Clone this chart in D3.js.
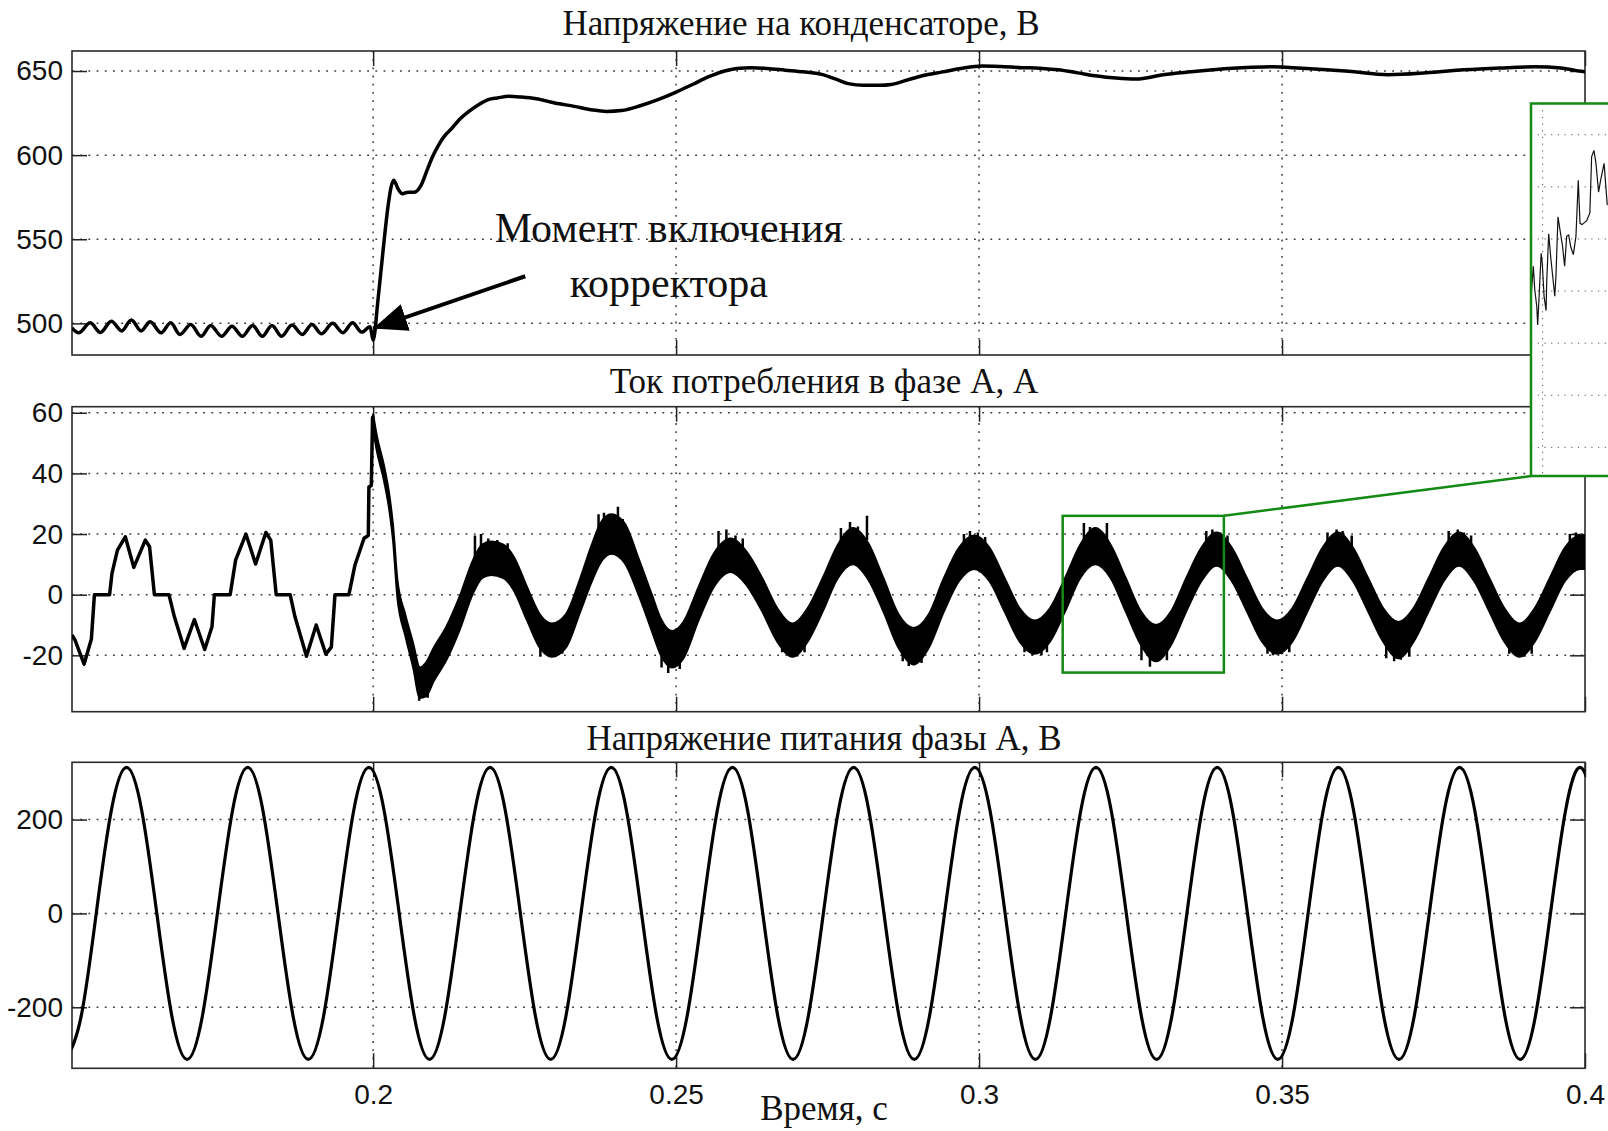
<!DOCTYPE html>
<html>
<head>
<meta charset="utf-8">
<script src="https://cdn.jsdelivr.net/npm/d3@7"></script>
<style>
  body { margin: 0; background: #fff; }
  svg { display: block; }
  .tick text { font-family: "Liberation Sans", Arial, sans-serif; font-size: 28px; fill: #111; }
  .title { font-family: "Liberation Serif", "Times New Roman", serif; font-size: 35px; fill: #111; }
  .note { font-family: "Liberation Serif", "Times New Roman", serif; font-size: 42px; fill: #111; }
</style>
</head>
<body>
<svg id="chart"></svg>
<script>
// ---- data ----
const xTicks = [0.2, 0.25, 0.3, 0.35, 0.4];
const capTicks = [500, 550, 600, 650];
const curTicks = [-20, 0, 20, 40, 60];
const supTicks = [-200, 0, 200];

// capacitor voltage, V
const capT = [0.1503, 0.1514, 0.1533, 0.1550, 0.1568, 0.1585, 0.1601, 0.1617, 0.1632, 0.1650,
  0.1666, 0.1681, 0.1699, 0.1716, 0.1732, 0.1750, 0.1767, 0.1784, 0.1801, 0.1817,
  0.1833, 0.1849, 0.1866, 0.1883, 0.1899, 0.1915, 0.1933, 0.1950, 0.1966, 0.1981,
  0.1995, 0.2000, 0.2008, 0.2016, 0.2024, 0.2029, 0.2034, 0.2041, 0.2048, 0.2058,
  0.2068, 0.2079, 0.2090, 0.2098, 0.2108, 0.2117, 0.2130, 0.2142, 0.2158, 0.2174,
  0.2190, 0.2205, 0.2224, 0.2245, 0.2269, 0.2300, 0.2332, 0.2360, 0.2385, 0.2410,
  0.2442, 0.2470, 0.2500, 0.2527, 0.2554, 0.2580, 0.2600, 0.2625, 0.2650, 0.2680,
  0.2710, 0.2740, 0.2765, 0.2784, 0.2810, 0.2835, 0.2855, 0.2880, 0.2910, 0.2940,
  0.2970, 0.3005, 0.3035, 0.3070, 0.3100, 0.3130, 0.3163, 0.3195, 0.3226, 0.3259,
  0.3304, 0.3350, 0.3386, 0.3418, 0.3450, 0.3482, 0.3540, 0.3610, 0.3675, 0.3738,
  0.3800, 0.3860, 0.3918, 0.3960, 0.3994, 0.4000];
const capV = [497.3, 494.4, 500.3, 494.6, 501.3, 495.5, 502.0, 495.5, 501.0, 494.4,
  500.3, 493.4, 499.3, 492.3, 498.8, 492.3, 498.3, 492.3, 498.8, 492.3,
  498.8, 492.3, 499.0, 493.4, 499.3, 493.8, 500.0, 494.4, 500.3, 494.8,
  498.0, 490.0, 514.0, 542.0, 568.0, 580.0, 585.0, 580.0, 577.0, 578.0,
  578.0, 582.0, 592.0, 599.0, 606.0, 611.0, 616.0, 621.0, 626.0, 630.0,
  633.0, 634.0, 635.0, 634.5, 633.5, 631.0, 629.0, 627.0, 626.0, 626.5,
  629.5, 633.0, 637.5, 642.0, 646.6, 650.0, 651.5, 652.0, 651.5, 650.5,
  649.5, 648.0, 645.0, 642.5, 641.5, 641.5, 642.0, 644.5, 647.5, 649.5,
  651.5, 653.0, 652.7, 652.0, 651.7, 650.7, 648.9, 647.0, 645.8, 645.2,
  647.8, 649.5, 650.7, 651.6, 652.2, 652.5, 651.5, 649.8, 647.8, 648.9,
  650.7, 651.8, 652.5, 651.8, 649.8, 649.5];

// phase current before the corrector is switched on, A
const curPreT = [0.1503, 0.1508, 0.1523, 0.1535, 0.1540, 0.1565, 0.1569, 0.1578, 0.1591, 0.1605,
  0.1624, 0.1631, 0.1639, 0.1663, 0.1672, 0.1688, 0.1705, 0.1722, 0.1734, 0.1738,
  0.1764, 0.1773, 0.1790, 0.1806, 0.1823, 0.1831, 0.1840, 0.1863, 0.1871, 0.1890,
  0.1906, 0.1922, 0.1931, 0.1937, 0.1960, 0.1970, 0.1985, 0.1992, 0.1993, 0.1997,
  0.1999, 0.2000];
const curPreV = [-13.3, -15.0, -22.9, -14.6, 0, 0, 7.0, 14.7, 19.1, 9.0,
  18.0, 15.8, 0, 0, -7.3, -17.7, -8.2, -18.1, -10.6, 0,
  0, 11.4, 20.0, 10.1, 20.5, 18.0, 0, 0, -7.3, -20.3,
  -10.0, -19.6, -17.3, 0, 0, 9.8, 18.6, 19.5, 35.5, 36.0,
  58.5, 58.0];

// phase current after switch-on: centre of the PWM ripple band and its half-height, A
const curT = [0.2000, 0.2006, 0.2018, 0.2027, 0.2033, 0.2040, 0.2053, 0.2066, 0.2077, 0.2087,
  0.2100, 0.2121, 0.2143, 0.2165, 0.2180, 0.2195, 0.2215, 0.2232, 0.2254, 0.2275,
  0.2295, 0.2318, 0.2342, 0.2360, 0.2375, 0.2393, 0.2415, 0.2438, 0.2460, 0.2475,
  0.2493, 0.2512, 0.2537, 0.2562, 0.2590, 0.2615, 0.2642, 0.2667, 0.2692, 0.2717,
  0.2742, 0.2767, 0.2792, 0.2817, 0.2842, 0.2867, 0.2892, 0.2917, 0.2942, 0.2967,
  0.2992, 0.3017, 0.3042, 0.3067, 0.3092, 0.3117, 0.3142, 0.3167, 0.3192, 0.3217,
  0.3242, 0.3267, 0.3292, 0.3317, 0.3342, 0.3367, 0.3392, 0.3417, 0.3442, 0.3467,
  0.3492, 0.3517, 0.3542, 0.3567, 0.3592, 0.3617, 0.3642, 0.3667, 0.3692, 0.3717,
  0.3742, 0.3767, 0.3792, 0.3817, 0.3842, 0.3867, 0.3892, 0.3917, 0.3942, 0.3967,
  0.3992, 0.4000];
const curMid = [57, 50, 40, 30, 20, 2, -10, -20, -29, -28,
  -23, -16, -6, 6, 11, 12, 11, 7, -3, -12,
  -15, -12, 0, 10, 17, 20, 17, 6, -6, -14,
  -18, -15, -3, 8, 13, 9, 0, -10, -15, -10,
  0, 11, 16, 11, 0, -12, -17, -12, 0, 10,
  14, 10, 0, -10, -14, -10, 0, 11, 16, 11,
  0, -11, -16, -11, 0, 10, 15, 10, 0, -10,
  -14, -10, 0, 10, 15, 10, 0, -10, -15, -10,
  0, 10, 15, 10, 0, -10, -15, -10, 0, 10,
  14, 14];
const curHalf = [2.5, 2.5, 2.5, 2.5, 2.5, 3, 3.5, 4, 5, 5.5,
  5.5, 5.5, 5.5, 5.5, 5.5, 5.5, 5.5, 5.5, 5.5, 5.5,
  5.5, 5.5, 5.5, 6, 6.5, 6.5, 6.5, 6, 6, 6,
  6, 6, 5.5, 5.5, 5.5, 5.5, 5.5, 5.5, 5.5, 5.5,
  5.5, 5.5, 6, 6, 5.5, 5.5, 6, 5.5, 5.5, 5.5,
  5.5, 5.5, 5.5, 5.5, 5.5, 5.5, 5.5, 5.5, 6, 5.5,
  5.5, 5.5, 6, 5.5, 5.5, 5.5, 5.5, 5.5, 5.5, 5.5,
  5.5, 5.5, 5.5, 5.5, 5.5, 5.5, 5.5, 5.5, 6, 5.5,
  5.5, 5.5, 5.5, 5.5, 5.5, 5.5, 5.5, 5.5, 5.5, 5.5,
  5.5, 5.5];
// single ripple spikes sticking out of the band
const spikeT = [0.2076, 0.2082, 0.2090,
  0.2168, 0.2178, 0.2190, 0.2205, 0.2222,
  0.2276, 0.2286, 0.2300, 0.2312,
  0.2372, 0.2381, 0.2390, 0.2404, 0.2412,
  0.2476, 0.2487, 0.2497, 0.2506,
  0.2570, 0.2583, 0.2598, 0.2610,
  0.2675, 0.2688, 0.2700, 0.2712,
  0.2772, 0.2787, 0.2800, 0.2815,
  0.2874, 0.2884, 0.2895, 0.2905,
  0.2975, 0.2985, 0.2998, 0.3010,
  0.3075, 0.3088, 0.3103, 0.3112,
  0.3173, 0.3183, 0.3194, 0.3211,
  0.3268, 0.3282, 0.3290, 0.3310,
  0.3375, 0.3385, 0.3398, 0.3410,
  0.3476, 0.3485, 0.3500, 0.3512,
  0.3575, 0.3590, 0.3600, 0.3615,
  0.3672, 0.3685, 0.3696, 0.3710,
  0.3775, 0.3790, 0.3800, 0.3812,
  0.3875, 0.3890, 0.3900, 0.3912,
  0.3975, 0.3985, 0.3995];
const spikeV = [-35, -33, -34,
  19.5, 20, 18.5, 18, 17,
  -20.5, -19, -20.5, -19.5,
  26.5, 27, 25, 29, 25,
  -24, -25.8, -23, -24.5,
  21, 21.5, 19.5, 18.5,
  -19, -20, -20.4, -19,
  22, 24, 22.5, 26,
  -22, -23.5, -22, -22.5,
  20, 21, 20.5, 19,
  -19, -20, -20, -19,
  23.6, 22.3, 22, 23.6,
  -21.6, -23.8, -20.5, -21.6,
  21, 21.5, 20.5, 19.5,
  -19.5, -20, -19.5, -19,
  20.5, 21.5, 21, 19.5,
  -21, -22, -21.5, -20.5,
  21, 21.5, 20.5, 19.5,
  -19.5, -20.5, -20.5, -19.5,
  20, 20.5, 19];

// supply voltage of phase A, V (samples every 1/8 of the 50 Hz period)
const supT = [0.1493, 0.1518, 0.1543, 0.1568, 0.1593, 0.1618, 0.1643, 0.1668,
  0.1693, 0.1718, 0.1743, 0.1768, 0.1793, 0.1818, 0.1843, 0.1868,
  0.1893, 0.1918, 0.1943, 0.1968, 0.1993, 0.2018, 0.2043, 0.2068,
  0.2093, 0.2118, 0.2143, 0.2168, 0.2193, 0.2218, 0.2243, 0.2268,
  0.2293, 0.2318, 0.2343, 0.2368, 0.2393, 0.2418, 0.2443, 0.2468,
  0.2493, 0.2518, 0.2543, 0.2568, 0.2593, 0.2618, 0.2643, 0.2668,
  0.2693, 0.2718, 0.2743, 0.2768, 0.2793, 0.2818, 0.2843, 0.2868,
  0.2893, 0.2918, 0.2943, 0.2968, 0.2993, 0.3018, 0.3043, 0.3068,
  0.3093, 0.3118, 0.3143, 0.3168, 0.3193, 0.3218, 0.3243, 0.3268,
  0.3293, 0.3318, 0.3343, 0.3368, 0.3393, 0.3418, 0.3443, 0.3468,
  0.3493, 0.3518, 0.3543, 0.3568, 0.3593, 0.3618, 0.3643, 0.3668,
  0.3693, 0.3718, 0.3743, 0.3768, 0.3793, 0.3818, 0.3843, 0.3868,
  0.3893, 0.3918, 0.3943, 0.3968, 0.3993, 0.4018];
const supV = [-311, -220, 0, 220, 311, 220, 0, -220,
  -311, -220, 0, 220, 311, 220, 0, -220,
  -311, -220, 0, 220, 311, 220, 0, -220,
  -311, -220, 0, 220, 311, 220, 0, -220,
  -311, -220, 0, 220, 311, 220, 0, -220,
  -311, -220, 0, 220, 311, 220, 0, -220,
  -311, -220, 0, 220, 311, 220, 0, -220,
  -311, -220, 0, 220, 311, 220, 0, -220,
  -311, -220, 0, 220, 311, 220, 0, -220,
  -311, -220, 0, 220, 311, 220, 0, -220,
  -311, -220, 0, 220, 311, 220, 0, -220,
  -311, -220, 0, 220, 311, 220, 0, -220,
  -311, -220, 0, 220, 311, 220];

// zoomed fragment of the current (green frame), time in ms
const zoomBoxT = [0.3138, 0.3404];
const zoomBoxV = [-25.7, 26];
const insetT = [313.62, 313.68, 313.73, 313.80, 313.83, 313.88, 313.95, 313.99, 314.05, 314.12,
  314.14, 314.21, 314.28, 314.35, 314.42, 314.46, 314.53, 314.60, 314.69, 314.76,
  314.83, 314.90, 314.97, 315.06, 315.15, 315.23, 315.29, 315.36, 315.52, 315.63,
  315.69, 315.77, 315.84, 315.93, 316.00, 316.12, 316.23];
const insetV = [0.1, 1.9, 0.1, -1.2, -2.6, -0.4, 2.9, 2.1, -0.4, -1.5,
  0.6, 4.4, 2.6, 1.1, -0.4, 1.1, 5.7, 4.7, 3.4, 1.9,
  4.2, 4.3, 3.4, 2.8, 4.2, 8.5, 5.2, 5.1, 5.4, 6.0,
  10.3, 10.8, 9.8, 7.6, 8.5, 9.8, 6.6];
const insetGridT = [314, 318, 322];
const insetGridV = [-12, -8, -4, 0, 4, 8, 12];

// annotation: arrow from the text to the switch-on moment
const arrowT = [0.2251, 0.2];
const arrowV = [528, 497];
const noteT = 0.2488;
const noteV = [548.6, 515.9];

// ---- layout ----
const svgWidth = 1608;
const svgHeight = 1131;
const plotLeft = 72;
const plotRight = 1585;
const tickLen = 15;
const gridColor = "#3a3a3a";
const green = "#138a13";

const svg = d3.select("#chart").attr("width", svgWidth).attr("height", svgHeight);
const defs = svg.append("defs");

const x = d3.scaleLinear().domain([0.1503, 0.4]).range([plotLeft, plotRight]);

const panels = [
  { id: "cap", top: 51, bottom: 355, domain: [481.2, 661.9], ticks: capTicks,
    title: "Напряжение на конденсаторе, В", titleX: 801, titleY: 35 },
  { id: "cur", top: 406.7, bottom: 711.7, domain: [-38.6, 62], ticks: curTicks,
    title: "Ток потребления в фазе А, А", titleX: 824, titleY: 393 },
  { id: "sup", top: 762.3, bottom: 1068.3, domain: [-330, 322], ticks: supTicks,
    title: "Напряжение питания фазы А, В", titleX: 824, titleY: 750 },
];

const styleAxis = (sel) => {
  sel.select(".domain").remove();
  sel.attr("color", "#222");
  sel.selectAll(".tick line").attr("stroke-width", 1.5);
  sel.attr("font-size", null).attr("font-family", null);
};

panels.forEach((p) => {
  p.y = d3.scaleLinear().domain(p.domain).range([p.bottom, p.top]);
  const g = svg.append("g").attr("class", "panel-" + p.id);

  defs.append("clipPath").attr("id", "clip-" + p.id)
    .append("rect")
    .attr("x", plotLeft).attr("y", p.top)
    .attr("width", plotRight - plotLeft).attr("height", p.bottom - p.top);

  // dotted grid
  g.selectAll(".hgrid").data(p.ticks).join("line")
    .attr("class", "hgrid")
    .attr("x1", plotLeft).attr("x2", plotRight)
    .attr("y1", (d) => p.y(d)).attr("y2", (d) => p.y(d))
    .attr("stroke", gridColor).attr("stroke-width", 1.5)
    .attr("stroke-dasharray", "1.8 6.4");
  g.selectAll(".vgrid").data(xTicks.filter((d) => d < 0.4)).join("line")
    .attr("class", "vgrid")
    .attr("x1", (d) => x(d)).attr("x2", (d) => x(d))
    .attr("y1", p.top).attr("y2", p.bottom)
    .attr("stroke", gridColor).attr("stroke-width", 1.5)
    .attr("stroke-dasharray", "1.8 6.4");

  // ticks on all four sides, pointing inwards
  g.append("g").attr("transform", `translate(${plotLeft},0)`)
    .call(d3.axisLeft(p.y).tickValues(p.ticks).tickSize(-tickLen).tickPadding(9)
      .tickFormat((d) => String(d)))
    .call(styleAxis);
  g.append("g").attr("transform", `translate(${plotRight},0)`)
    .call(d3.axisRight(p.y).tickValues(p.ticks).tickSize(-tickLen).tickFormat(""))
    .call(styleAxis);
  g.append("g").attr("transform", `translate(0,${p.bottom})`)
    .call(d3.axisBottom(x).tickValues(xTicks).tickSize(-tickLen).tickPadding(16)
      .tickFormat(p.id === "sup" ? (d) => String(d) : ""))
    .call(styleAxis);
  g.append("g").attr("transform", `translate(0,${p.top})`)
    .call(d3.axisTop(x).tickValues(xTicks).tickSize(-tickLen).tickFormat(""))
    .call(styleAxis);

  // frame
  g.append("rect")
    .attr("x", plotLeft).attr("y", p.top)
    .attr("width", plotRight - plotLeft).attr("height", p.bottom - p.top)
    .attr("fill", "none").attr("stroke", "#2a2a2a").attr("stroke-width", 1.6);

  svg.append("text").attr("class", "title")
    .attr("x", p.titleX).attr("y", p.titleY)
    .attr("text-anchor", "middle")
    .text(p.title);

  p.plot = svg.append("g").attr("clip-path", `url(#clip-${p.id})`);
});

const [capP, curP, supP] = panels;

// capacitor voltage
capP.plot.append("path")
  .datum(capT.map((t, i) => [t, capV[i]]))
  .attr("fill", "none").attr("stroke", "#000").attr("stroke-width", 3.5)
  .attr("stroke-linejoin", "round")
  .attr("d", d3.line().curve(d3.curveMonotoneX).x((d) => x(d[0])).y((d) => capP.y(d[1])));

// current before switch-on
curP.plot.append("path")
  .datum(curPreT.map((t, i) => [t, curPreV[i]]))
  .attr("fill", "none").attr("stroke", "#000").attr("stroke-width", 3.5)
  .attr("stroke-linejoin", "round")
  .attr("d", d3.line().x((d) => x(d[0])).y((d) => curP.y(d[1])));

// current after switch-on: ripple band
const bandRows = curT.map((t, i) => ({ t, lo: curMid[i] - curHalf[i], hi: curMid[i] + curHalf[i] }));
curP.plot.append("path")
  .datum(bandRows)
  .attr("fill", "#000").attr("stroke", "#000").attr("stroke-width", 2)
  .attr("stroke-linejoin", "round")
  .attr("d", d3.area().curve(d3.curveMonotoneX)
    .x((d) => x(d.t)).y0((d) => curP.y(d.lo)).y1((d) => curP.y(d.hi)));

curP.plot.selectAll(".spike").data(spikeT).join("line")
  .attr("class", "spike")
  .attr("x1", (d) => x(d)).attr("x2", (d) => x(d))
  .attr("y1", (d, i) => curP.y(spikeV[i] > 0 ? spikeV[i] - 8 : spikeV[i] + 8))
  .attr("y2", (d, i) => curP.y(spikeV[i]))
  .attr("stroke", "#000").attr("stroke-width", 2.5);

// supply voltage
supP.plot.append("path")
  .datum(supT.map((t, i) => [t, supV[i]]))
  .attr("fill", "none").attr("stroke", "#000").attr("stroke-width", 3.2)
  .attr("d", d3.line().curve(d3.curveNatural).x((d) => x(d[0])).y((d) => supP.y(d[1])));

// annotation
defs.append("marker")
  .attr("id", "arrowhead")
  .attr("viewBox", "0 0 34 28")
  .attr("refX", 34).attr("refY", 14)
  .attr("markerWidth", 34).attr("markerHeight", 28)
  .attr("markerUnits", "userSpaceOnUse")
  .attr("orient", "auto")
  .append("path").attr("d", "M0,0 L34,14 L0,28 Z").attr("fill", "#000");

svg.append("line")
  .attr("x1", x(arrowT[0])).attr("y1", capP.y(arrowV[0]))
  .attr("x2", x(arrowT[1])).attr("y2", capP.y(arrowV[1]))
  .attr("stroke", "#000").attr("stroke-width", 4)
  .attr("marker-end", "url(#arrowhead)");

svg.append("text").attr("class", "note")
  .attr("x", x(noteT)).attr("y", capP.y(noteV[0]))
  .attr("text-anchor", "middle").text("Момент включения");
svg.append("text").attr("class", "note")
  .attr("x", x(noteT)).attr("y", capP.y(noteV[1]))
  .attr("text-anchor", "middle").text("корректора");

// green frame on the current and the enlarged fragment
const boxX0 = x(zoomBoxT[0]);
const boxX1 = x(zoomBoxT[1]);
const boxY0 = curP.y(zoomBoxV[1]);
const boxY1 = curP.y(zoomBoxV[0]);
svg.append("rect")
  .attr("x", boxX0).attr("y", boxY0)
  .attr("width", boxX1 - boxX0).attr("height", boxY1 - boxY0)
  .attr("fill", "none").attr("stroke", green).attr("stroke-width", 2.5);

const inset = { left: 1531, top: 103.5, bottom: 476, width: 400 };
const ix = d3.scaleLinear().domain([313.6, 313.6 + inset.width / 29]).range([inset.left, inset.left + inset.width]);
const iy = d3.scaleLinear().domain([-14.2, 14.4]).range([inset.bottom, inset.top]);

svg.append("line")
  .attr("x1", boxX1).attr("y1", boxY0)
  .attr("x2", ix.range()[0]).attr("y2", iy.range()[0])
  .attr("stroke", green).attr("stroke-width", 2.5);

svg.append("rect")
  .attr("x", inset.left).attr("y", inset.top)
  .attr("width", inset.width).attr("height", inset.bottom - inset.top)
  .attr("fill", "#fff");

defs.append("clipPath").attr("id", "clip-inset")
  .append("rect")
  .attr("x", inset.left).attr("y", inset.top)
  .attr("width", inset.width).attr("height", inset.bottom - inset.top);

const ig = svg.append("g").attr("clip-path", "url(#clip-inset)");
ig.selectAll(".igh").data(insetGridV).join("line")
  .attr("x1", inset.left).attr("x2", inset.left + inset.width)
  .attr("y1", (d) => iy(d)).attr("y2", (d) => iy(d))
  .attr("stroke", "#555").attr("stroke-width", 1)
  .attr("stroke-dasharray", "1.2 5.5");
ig.selectAll(".igv").data(insetGridT).join("line")
  .attr("x1", (d) => ix(d)).attr("x2", (d) => ix(d))
  .attr("y1", inset.top).attr("y2", inset.bottom)
  .attr("stroke", "#555").attr("stroke-width", 1)
  .attr("stroke-dasharray", "1.2 5.5");
ig.append("path")
  .datum(insetT.map((t, i) => [t, insetV[i]]))
  .attr("fill", "none").attr("stroke", "#111").attr("stroke-width", 1.2)
  .attr("d", d3.line().x((d) => ix(d[0])).y((d) => iy(d[1])));

svg.append("rect")
  .attr("x", inset.left).attr("y", inset.top)
  .attr("width", inset.width).attr("height", inset.bottom - inset.top)
  .attr("fill", "none").attr("stroke", green).attr("stroke-width", 2.5);

// axis caption
svg.append("text").attr("class", "title")
  .attr("x", 824).attr("y", 1120)
  .attr("text-anchor", "middle")
  .text("Время, с");
</script>
</body>
</html>
